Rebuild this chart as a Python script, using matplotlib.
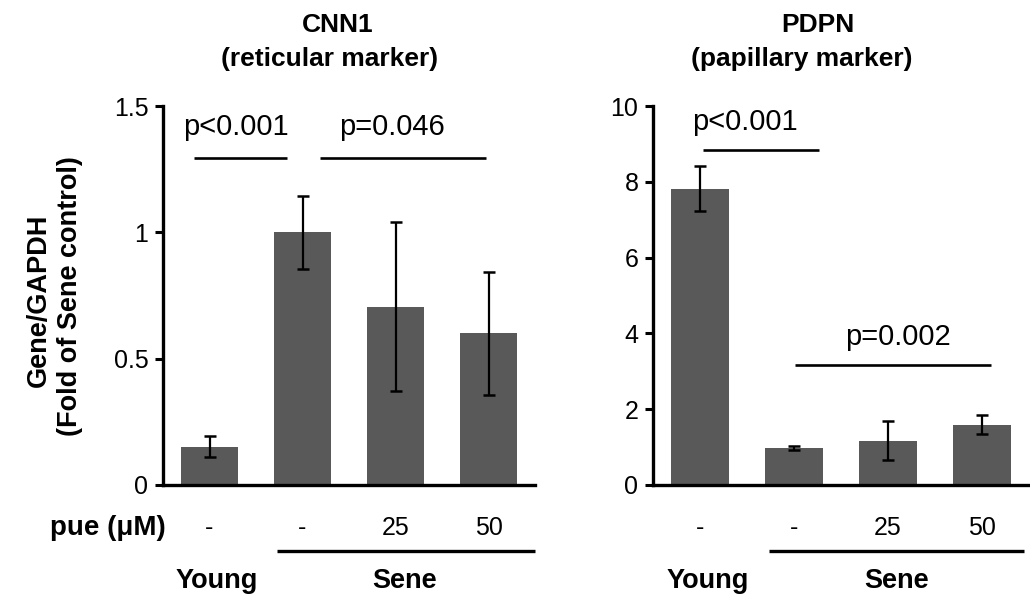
import matplotlib
matplotlib.use("Agg")
import matplotlib.pyplot as plt
import matplotlib.transforms as mtransforms

plt.rcParams['font.family'] = ['Liberation Sans', 'DejaVu Sans']

# ---- data ----
groups = ["Young", "Sene"]
pue_labels = ["-", "-", "25", "50"]

cnn1_values = [0.152, 1.0, 0.706, 0.600]
cnn1_errors = [0.041, 0.145, 0.335, 0.243]
cnn1_yticks = [0, 0.5, 1, 1.5]
cnn1_yticklabels = ["0", "0.5", "1", "1.5"]

pdpn_values = [7.82, 0.98, 1.17, 1.59]
pdpn_errors = [0.60, 0.06, 0.51, 0.25]
pdpn_yticks = [0, 2, 4, 6, 8, 10]
pdpn_yticklabels = ["0", "2", "4", "6", "8", "10"]

# (label, line x0, line x1, line y, text x, text baseline y)
cnn1_sig = [("p<0.001", -0.17, 0.83, 1.294, 0.28, 1.385),
            ("p=0.046", 1.19, 2.97, 1.294, 1.96, 1.385)]
pdpn_sig = [("p<0.001", 0.03, 1.27, 8.84, 0.48, 9.37),
            ("p=0.002", 1.01, 3.10, 3.17, 2.11, 3.69)]

BAR = "#595959"
W, H = 1030, 594
fig = plt.figure(figsize=(W / 100, H / 100), dpi=100)


def fy(px):
    return 1 - px / H


def panel(rect, values, errors, yticks, yticklabels, ylim, sig,
          group_x, sene_line_x):
    ax = fig.add_axes(rect)
    x = list(range(len(values)))
    ax.bar(x, values, width=0.62, color=BAR, zorder=2)
    ax.errorbar(x, values, yerr=errors, fmt="none", ecolor="black",
                elinewidth=1.6, capsize=4.5, capthick=1.8, zorder=3)
    ax.set_xlim(-0.5, 3.5)
    ax.set_ylim(*ylim)
    ax.set_yticks(yticks)
    ax.set_yticklabels(yticklabels, fontsize=18)
    ax.set_xticks([])
    for s in ["top", "right"]:
        ax.spines[s].set_visible(False)
    for s in ["left", "bottom"]:
        ax.spines[s].set_linewidth(2.4)
        ax.spines[s].set_capstyle("projecting")
    ax.tick_params(axis="y", direction="out", length=5.5, width=2.2, pad=5)
    tr = mtransforms.blended_transform_factory(ax.transData, ax.transAxes)
    for i, lab in enumerate(pue_labels):
        ax.text(i, -0.132, lab, transform=tr, ha="center", va="baseline",
                fontsize=18)
    ax.plot(sene_line_x, [-0.174, -0.174], transform=tr, color="black",
            lw=2.4, clip_on=False, solid_capstyle="butt")
    for gx, g in zip(group_x, groups):
        ax.text(gx, -0.272, g, transform=tr, ha="center", va="baseline",
                fontsize=19.5, fontweight="bold")
    for lab, x0, x1, yl, xt, yt in sig:
        ax.plot([x0, x1], [yl, yl], color="black", lw=1.9, clip_on=False,
                solid_capstyle="butt")
        ax.text(xt, yt, lab, ha="center", va="baseline", fontsize=21,
                clip_on=False)
    return ax


axL = panel([163 / W, (H - 485) / H, 372 / W, 379 / H], cnn1_values,
            cnn1_errors, cnn1_yticks, cnn1_yticklabels, (0, 1.5), cnn1_sig,
            [0.08, 2.1], [0.73, 3.5])
axR = panel([653 / W, (H - 485) / H, 376 / W, 379 / H], pdpn_values,
            pdpn_errors, pdpn_yticks, pdpn_yticklabels, (0, 10), pdpn_sig,
            [0.085, 2.09], [0.73, 3.45])

# pue label (left of the dose row)
axL.text(166 / W, -0.132, "pue (\u03bcM)",
         transform=mtransforms.blended_transform_factory(fig.transFigure,
                                                         axL.transAxes),
         ha="right", va="baseline", fontsize=20, fontweight="bold")

# titles
fig.text(338 / W, fy(32), "CNN1", ha="center", va="baseline",
         fontsize=19, fontweight="bold")
fig.text(330 / W, fy(66), "(reticular marker)", ha="center", va="baseline",
         fontsize=19, fontweight="bold")
fig.text(818 / W, fy(32), "PDPN", ha="center", va="baseline",
         fontsize=19, fontweight="bold")
fig.text(802 / W, fy(66), "(papillary marker)", ha="center", va="baseline",
         fontsize=19, fontweight="bold")

# y label (two lines)
fig.text(39 / W, fy(300), "Gene/GAPDH", rotation=90, ha="center",
         va="center", fontsize=19.5, fontweight="bold")
fig.text(70 / W, fy(296), "(Fold of Sene control)", rotation=90,
         ha="center", va="center", fontsize=19.5, fontweight="bold")

fig.savefig("out.png", dpi=100)
